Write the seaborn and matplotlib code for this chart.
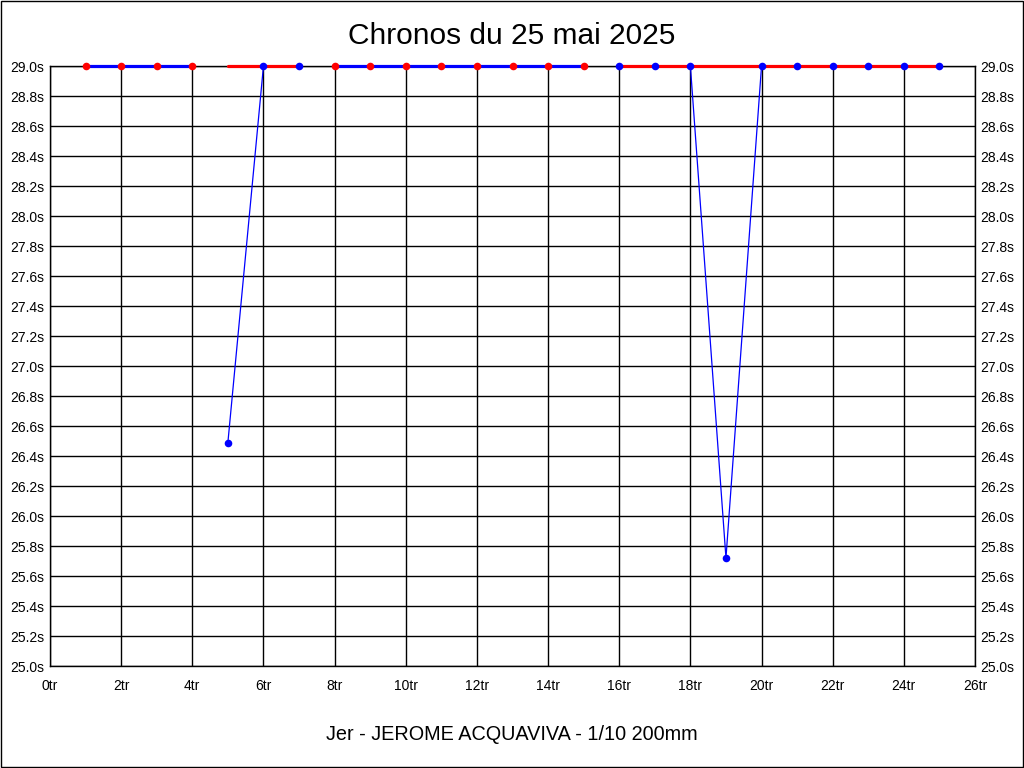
import pandas as pd
import matplotlib
matplotlib.use('Agg')
import matplotlib.pyplot as plt
import seaborn as sns

# lap times (s), capped at the 29.0s chart maximum
laps = list(range(1, 26))
times = [29.0, 29.0, 29.0, 29.0, 26.49, 29.0, 29.0, 29.0, 29.0, 29.0,
         29.0, 29.0, 29.0, 29.0, 29.0, 29.0, 29.0, 29.0, 25.72, 29.0,
         29.0, 29.0, 29.0, 29.0, 29.0]

# stints shown as thick bands along the top: (first lap, last lap, line colour, marker colour)
stints = [(1, 4, 'blue', 'red'), (5, 7, 'red', 'blue'),
          (8, 15, 'blue', 'red'), (16, 25, 'red', 'blue')]

y_ticks = [25.0 + 0.2 * i for i in range(21)]
x_ticks = list(range(0, 27, 2))

sns.set_style('white')
plt.rcParams['font.family'] = ['Liberation Sans', 'DejaVu Sans']
plt.rcParams['text.color'] = 'black'

fig = plt.figure(figsize=(10.24, 7.68), dpi=100)
ax = fig.add_axes([50 / 1024, 102 / 768, 925 / 1024, 600 / 768])

df = pd.DataFrame({'lap': laps, 'time': times})

for first, last, lc, mc in stints:
    seg = df[(df['lap'] >= first) & (df['lap'] <= last)]
    # actual lap times within the stint: thin blue line
    sns.lineplot(data=seg, x='lap', y='time', ax=ax, color='blue', linewidth=0.9,
                 zorder=3, clip_on=False)
    sns.lineplot(x=[first, last], y=[29.0, 29.0], ax=ax, color=lc, linewidth=2.3,
                 zorder=4, clip_on=False)
    top = seg[seg['time'] >= 29.0]
    sns.scatterplot(data=top, x='lap', y='time', ax=ax, color=mc, s=30,
                    edgecolor=mc, linewidth=0, zorder=5, clip_on=False)
    low = seg[seg['time'] < 29.0]
    sns.scatterplot(data=low, x='lap', y='time', ax=ax, color='blue', s=30,
                    edgecolor='blue', linewidth=0, zorder=5, clip_on=False)

ax.set_xlim(0, 26)
ax.set_ylim(25.0, 29.0)
ax.set_xticks(x_ticks)
ax.set_xticklabels([f'{x}tr' for x in x_ticks])
ax.set_yticks(y_ticks)
ax.set_yticklabels([f'{y:.1f}s' for y in y_ticks])
ax.tick_params(axis='both', labelsize=10, length=0, pad=4, colors='black')
ax.tick_params(axis='x', pad=9)
ax.tick_params(axis='y', labelright=True, right=False)
ax.grid(True, color='black', linewidth=1)
ax.set_axisbelow(True)
for sp in ax.spines.values():
    sp.set_color('black')
    sp.set_linewidth(1)

ax.set_xlabel('')
ax.set_ylabel('')
fig.text(0.5, 1 - 36 / 768, 'Chronos du 25 mai 2025', ha='center', va='center',
         fontsize=21.5, color='black')
fig.text(0.5, 1 - 735 / 768, 'Jer - JEROME ACQUAVIVA - 1/10 200mm', ha='center',
         va='center', fontsize=14.3, color='black')

# black frame around the whole picture
fig.patches.append(plt.Rectangle((0.0005, 0.0007), 0.999, 0.9986, transform=fig.transFigure,
                                 fill=False, edgecolor='black', linewidth=1))

fig.savefig('out.png', dpi=100)
